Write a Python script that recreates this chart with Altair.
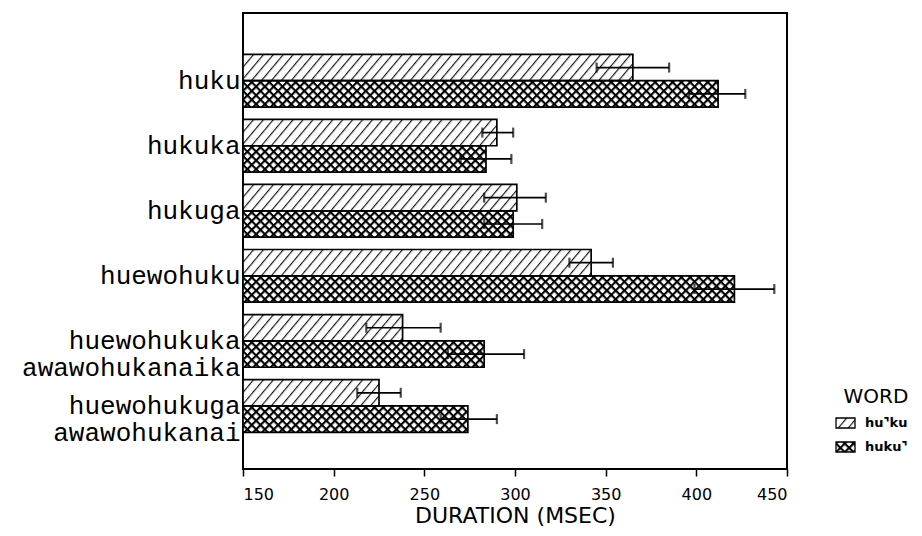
import base64
import altair as alt
import pandas as pd

# ---------------- data ----------------
words = ["huku", "hukuka", "hukuga", "huewohuku",
         "huewohukuka\nawawohukanaika", "huewohukuga\nawawohukanai"]
types = ["hu⌝ku", "huku⌝"]

mean_first = [365, 290, 301, 342, 238, 225]     # hu⌝ku (hatched)
low_first = [345, 282, 283, 330, 218, 213]
high_first = [385, 299, 317, 354, 259, 237]

mean_second = [412, 284, 299, 421, 283, 274]    # huku⌝ (cross-hatched)
low_second = [396, 270, 283, 399, 263, 259]
high_second = [427, 298, 315, 443, 305, 290]

x_ticks = [150, 200, 250, 300, 350, 400, 450]


# ---------------- fill patterns (svg data uris) ----------------
def svg_uri(pattern_body):
    svg = ('<svg xmlns="http://www.w3.org/2000/svg" width="100%" height="100%">'
           '<defs>' + pattern_body + '</defs>'
           '<rect width="100%" height="100%" fill="#ffffff"/>'
           '<rect width="100%" height="100%" fill="url(#p)"/></svg>')
    return "data:image/svg+xml;base64," + base64.b64encode(svg.encode("utf-8")).decode("ascii")


hatch = ('<pattern id="p" width="7.6" height="10" patternUnits="userSpaceOnUse" '
         'patternTransform="rotate(40)">'
         '<line x1="0.6" y1="-1" x2="0.6" y2="11" stroke="#111111" stroke-width="1.15"/></pattern>')
cross = ('<pattern id="p" width="6.2" height="6.2" patternUnits="userSpaceOnUse" '
         'patternTransform="rotate(45)">'
         '<rect width="6.2" height="6.2" fill="#ffffff"/>'
         '<rect width="6.2" height="2.1" fill="#000000"/>'
         '<rect width="2.1" height="6.2" fill="#000000"/></pattern>')
patterns = [svg_uri(hatch), svg_uri(cross)]


def pad_label(w):
    lines = w.split("\n")
    n = max(len(l) for l in lines)
    return "\n".join(l + "\u00a0" * (n - len(l)) for l in lines)


labels = [pad_label(w) for w in words]

rows = []
for i, w in enumerate(labels):
    rows.append({"word": w, "type": types[0], "mean": mean_first[i],
                 "low": low_first[i], "high": high_first[i], "pattern": patterns[0]})
    rows.append({"word": w, "type": types[1], "mean": mean_second[i],
                 "low": low_second[i], "high": high_second[i], "pattern": patterns[1]})
df = pd.DataFrame(rows)

xscale = alt.Scale(domain=[150, 450], zero=False, nice=False)
yscale = alt.Scale(paddingInner=0.19, paddingOuter=0.6, align=0.53)

X = alt.X("mean:Q", scale=xscale,
          axis=alt.Axis(values=x_ticks, title="DURATION (MSEC)", grid=False, domain=False,
                        tickSize=7, tickWidth=1.5, tickColor="black",
                        labelFont="DejaVu Sans", labelFontSize=16, labelColor="black",
                        labelPadding=10, titleFont="DejaVu Sans", titleFontSize=22,
                        titleFontWeight="normal", titleColor="black", titlePadding=3))
Y = alt.Y("word:N", sort=labels, scale=yscale,
          axis=alt.Axis(title=None, ticks=False, domain=False, grid=False,
                        labelFont="Liberation Mono", labelFontSize=26, labelColor="black",
                        labelPadding=3, labelLineHeight=27, labelLimit=400,
                        labelExpr="split(datum.label, '\\n')"))
YO = alt.YOffset("type:N", sort=types)

base = alt.Chart(df)

fills = base.mark_image(aspect=False).encode(x=X, x2=alt.datum(150), y=Y, yOffset=YO,
                                               url="pattern:N")
outlines = base.mark_bar(fillOpacity=0, stroke="black", strokeWidth=1.7).encode(
    x=X, x2=alt.datum(150), y=Y, yOffset=YO)
errs = base.mark_rule(color="black", strokeWidth=1.7).encode(
    x="low:Q", x2="high:Q", y=Y, yOffset=YO)
caps = base.transform_fold(["low", "high"], as_=["end", "val"]).mark_tick(
    orient="vertical", size=10, thickness=2.2, color="black").encode(
    x=alt.X("val:Q", scale=xscale), y=Y, yOffset=YO)

# ---------------- legend (drawn at the right of the frame) ----------------
leg_title = alt.Chart(pd.DataFrame({"t": ["WORD"]})).mark_text(
    font="DejaVu Sans", fontSize=20, align="center", baseline="middle", color="black").encode(
    text="t:N", x=alt.value(633), y=alt.value(384))
legend_layers = [leg_title]
for k, (t, p) in enumerate(zip(types, patterns)):
    yy = 410 + 24 * k
    ldf = pd.DataFrame({"t": [t], "p": [p]})
    legend_layers.append(alt.Chart(ldf).mark_image(aspect=False).encode(
        url="p:N", x=alt.value(593), x2=alt.value(612), y=alt.value(yy - 5), y2=alt.value(yy + 5)))
    legend_layers.append(alt.Chart(ldf).mark_rect(fillOpacity=0, stroke="black", strokeWidth=1.3).encode(
        x=alt.value(593), x2=alt.value(612), y=alt.value(yy - 5), y2=alt.value(yy + 5)))
    legend_layers.append(alt.Chart(ldf).mark_text(
        font="DejaVu Sans", fontSize=13, fontWeight="bold", align="left", baseline="middle",
        color="black").encode(text="t:N", x=alt.value(622), y=alt.value(yy)))

chart = alt.layer(fills, outlines, errs, caps, *legend_layers).properties(
    width=544, height=456,
    autosize="none",
    padding={"left": 235, "top": 5, "right": 127, "bottom": 59},
    background="white",
).configure_view(stroke="black", strokeWidth=2)

chart.save("out.html", embed_options={"renderer": "svg", "actions": False})
